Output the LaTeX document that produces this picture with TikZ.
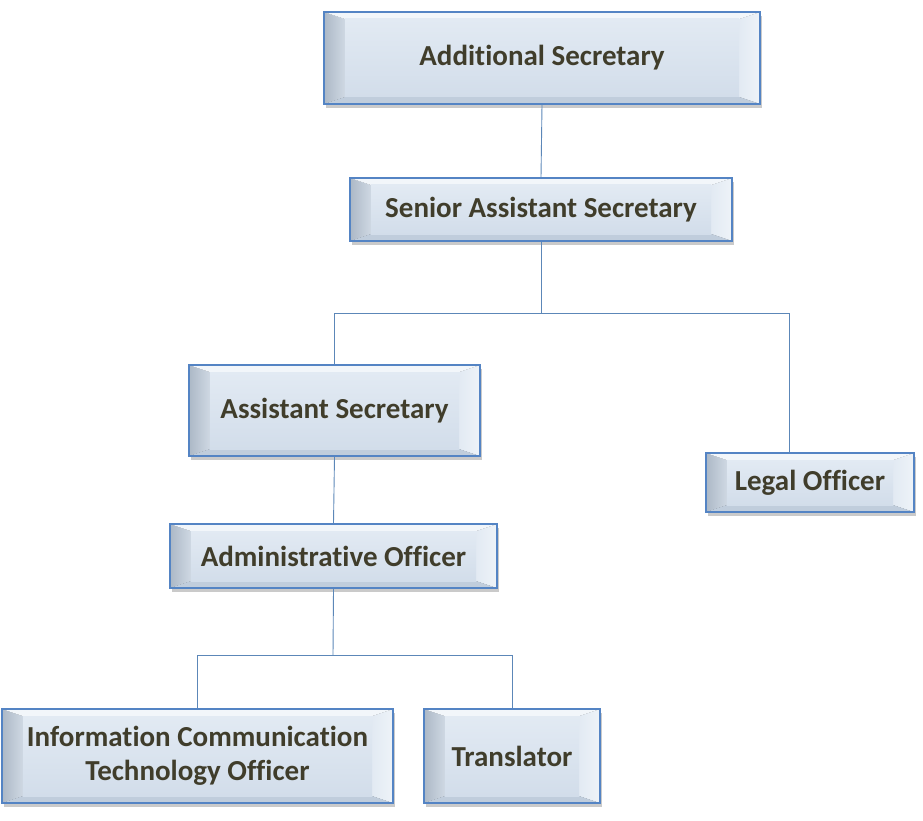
\documentclass[tikz,border=0pt]{standalone}
\usepackage{fontspec}
\setmainfont[Ligatures={NoCommon}]{Carlito}
\usetikzlibrary{calc,shadows}
\definecolor{txtc}{RGB}{64,61,43}
\definecolor{bord}{RGB}{84,132,196}
\definecolor{linec}{RGB}{92,135,184}
\definecolor{maintop}{RGB}{226,234,243}
\definecolor{mainbot}{RGB}{210,221,234}
\definecolor{bevL}{RGB}{172,184,198}
\definecolor{bevR}{RGB}{238,243,248}
\definecolor{bevT}{RGB}{242,246,250}
\definecolor{bevB}{RGB}{192,205,220}
\tikzset{
  orgbox/.style={
    rectangle, draw=bord, line width=1.6pt, top color=maintop, bottom color=mainbot,
    text=txtc, font=\fontsize{29}{34}\selectfont\bfseries, align=center, inner sep=0pt,
    drop shadow={shadow xshift=2pt, shadow yshift=-4pt, opacity=0.35, fill=black!60},
    path picture={
      \coordinate (SW) at (path picture bounding box.south west);
      \coordinate (NE) at (path picture bounding box.north east);
      \coordinate (NW) at (path picture bounding box.north west);
      \coordinate (SE) at (path picture bounding box.south east);
      \fill[left color=bevL, right color=bevL!35!maintop] (SW) -- (NW) -- ($(NW)+(21pt,-7pt)$) -- ($(SW)+(21pt,7pt)$) -- cycle;
      \fill[left color=maintop, right color=bevR] (SE) -- (NE) -- ($(NE)+(-21pt,-7pt)$) -- ($(SE)+(-21pt,7pt)$) -- cycle;
      \fill[bevT] (NW) -- (NE) -- ($(NE)+(-21pt,-7pt)$) -- ($(NW)+(21pt,-7pt)$) -- cycle;
      \fill[bevB] (SW) -- (SE) -- ($(SE)+(-21pt,7pt)$) -- ($(SW)+(21pt,7pt)$) -- cycle;
      \shade[top color=maintop, bottom color=mainbot] ($(NW)+(21pt,-7pt)$) rectangle ($(SE)+(-21pt,7pt)$);
    }
  },
  conn/.style={draw=linec, line width=0.9pt}
}
\begin{document}
\begin{tikzpicture}[x=1pt,y=-1pt]
\useasboundingbox (0,0) rectangle (923,821);
\node[orgbox, minimum width=436pt, minimum height=92pt] (as) at (542,58) {Additional Secretary};
\node[orgbox, minimum width=382pt, minimum height=63pt] (sas) at (541,209.5) {Senior Assistant Secretary};
\node[orgbox, minimum width=291pt, minimum height=91pt] (ast) at (334.5,410.5) {Assistant Secretary};
\node[orgbox, minimum width=208pt, minimum height=59pt] (lo) at (810,482.5) {Legal Officer};
\node[orgbox, minimum width=327pt, minimum height=64pt] (ao) at (333.5,556) {Administrative Officer};
\node[orgbox, minimum width=391pt, minimum height=94pt] (ict) at (197.5,756) {Information Communication\\Technology Officer};
\node[orgbox, minimum width=176pt, minimum height=94pt] (tr) at (512,756) {Translator};
\coordinate (j1) at (541,313);
\coordinate (j2) at (333,655);
\coordinate (lotop) at (789,453);
\draw[conn] (as.south) -- (sas.north);
\draw[conn] (sas.south) -- (j1);
\draw[conn] (ast.north) -- (ast.north |- j1) -- (lotop |- j1) -- (lotop);
\draw[conn] (ast.south) -- (ao.north);
\draw[conn] (ao.south) -- (j2);
\draw[conn] (ict.north) -- (ict.north |- j2) -- (tr.north |- j2) -- (tr.north);
\end{tikzpicture}
\end{document}
